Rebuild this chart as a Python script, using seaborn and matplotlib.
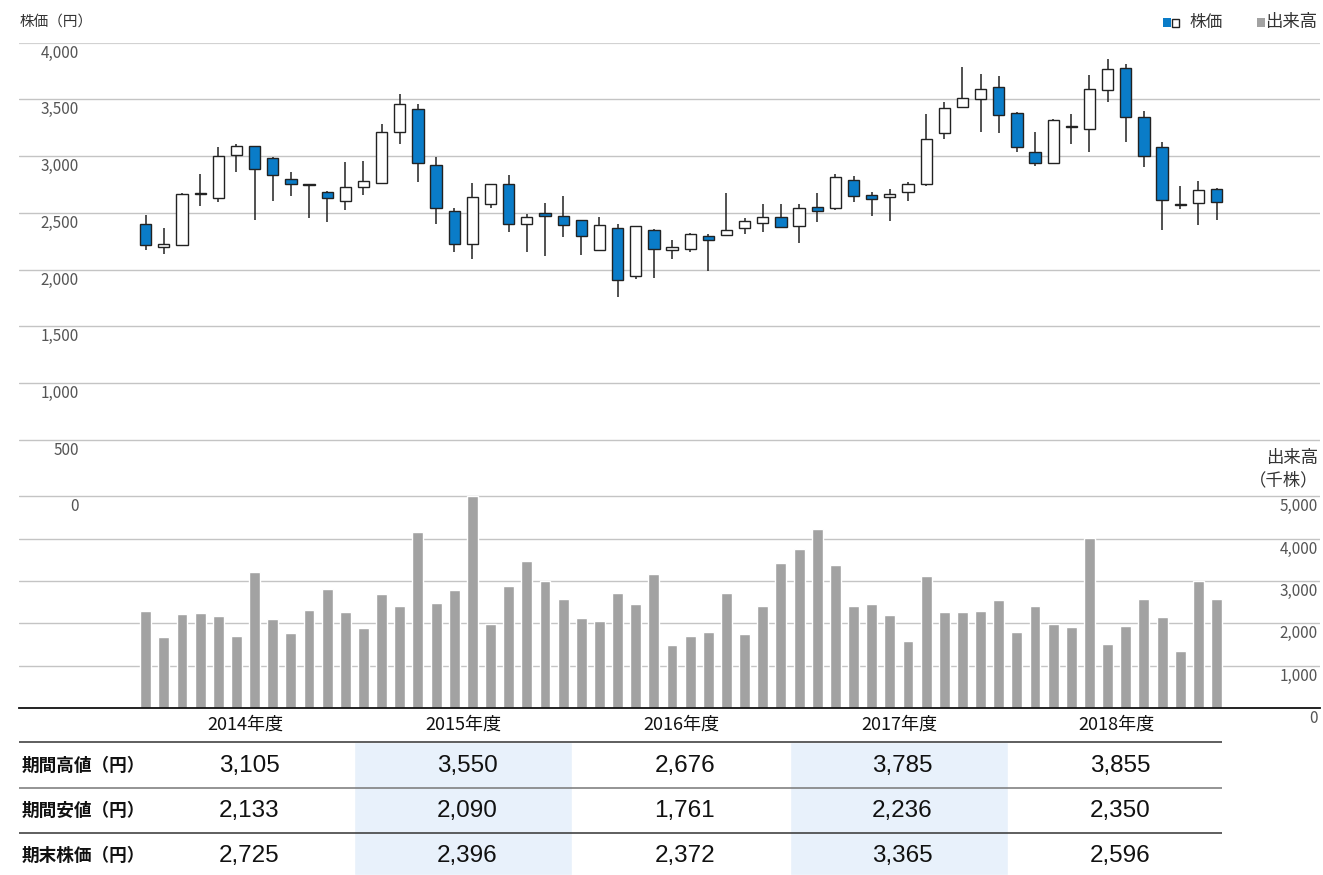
import matplotlib
matplotlib.use("Agg")
import matplotlib.pyplot as plt
import matplotlib.transforms as mtransforms
from matplotlib.patches import Rectangle
import numpy as np
import seaborn as sns

# monthly candles, FY2014 (Apr 2014) .. FY2018 (Mar 2019)
opens = [2401, 2196, 2219, 2662, 2627, 3009, 3088, 2982, 2800, 2752, 2686, 2604,
         2727, 2765, 3214, 3414, 2924, 2516, 2225, 2574, 2756, 2401, 2498, 2472,
         2433, 2175, 2369, 1943, 2351, 2172, 2184, 2292, 2301, 2363, 2413, 2460,
         2383, 2551, 2539, 2792, 2656, 2639, 2680, 2753, 3200, 3437, 3501, 3608,
         3379, 3035, 2941, 3258, 3235, 3580, 3774, 3344, 3079, 2572, 2583, 2709]
closes = [2216, 2228, 2668, 2672, 3000, 3088, 2888, 2830, 2753, 2745, 2627, 2725,
          2780, 3214, 3458, 2938, 2542, 2225, 2639, 2753, 2401, 2463, 2469, 2396,
          2292, 2392, 1904, 2380, 2181, 2198, 2316, 2263, 2345, 2427, 2463, 2372,
          2545, 2516, 2815, 2645, 2624, 2662, 2753, 3150, 3426, 3510, 3589, 3365,
          3076, 2938, 3317, 3264, 3590, 3765, 3341, 2997, 2610, 2576, 2700, 2596]
highs = [2480, 2366, 2677, 2844, 3082, 3105, 3090, 2991, 2862, 2755, 2690, 2950,
         2959, 3285, 3550, 3458, 2991, 2539, 2765, 2755, 2836, 2489, 2589, 2648,
         2436, 2463, 2401, 2383, 2357, 2263, 2319, 2313, 2676, 2454, 2580, 2580,
         2577, 2677, 2844, 2827, 2683, 2709, 2768, 3373, 3479, 3785, 3724, 3704,
         3385, 3214, 3329, 3370, 3713, 3855, 3810, 3399, 3123, 2739, 2783, 2718]
lows = [2169, 2133, 2215, 2557, 2598, 2856, 2433, 2601, 2645, 2451, 2416, 2527,
        2654, 2765, 3103, 2768, 2398, 2151, 2090, 2539, 2328, 2151, 2116, 2284,
        2125, 2172, 1761, 1917, 1925, 2090, 2154, 1984, 2298, 2310, 2331, 2363,
        2236, 2419, 2521, 2595, 2469, 2425, 2601, 2733, 3147, 3428, 3214, 3208,
        3032, 2909, 2930, 3103, 3032, 3473, 3121, 2900, 2350, 2533, 2395, 2434]
volumes = [2291, 1677, 2220, 2244, 2173, 1701, 3213, 2102, 1772, 2315, 2811, 2268,
           1890, 2693, 2409, 4157, 2480, 2787, 5000, 1992, 2882, 3472, 2992, 2575,
           2126, 2055, 2717, 2457, 3165, 1488, 1701, 1795, 2717, 1748, 2409, 3425,
           3756, 4228, 3378, 2409, 2457, 2197, 1583, 3118, 2268, 2268, 2291, 2551,
           1795, 2409, 1992, 1913, 4016, 1512, 1937, 2575, 2150, 1346, 2992, 2575]

years = ["2014年度", "2015年度", "2016年度", "2017年度", "2018年度"]
row_labels = ["期間高値（円）", "期間安値（円）", "期末株価（円）"]
period_high = [3105, 3550, 2676, 3785, 3855]
period_low = [2133, 2090, 1761, 2236, 2350]
period_end = [2725, 2396, 2372, 3365, 2596]

price_ticks = [0, 500, 1000, 1500, 2000, 2500, 3000, 3500, 4000]
volume_ticks = [0, 1000, 2000, 3000, 4000, 5000]

BLUE = "#0A7CC8"
GRAY = "#A2A2A2"
GRID = "#C4C4C4"
SHADE = "#E8F1FB"
EDGE = "#222222"

sns.set_theme(style="white")
plt.rcParams["font.family"] = ["Noto Sans CJK JP", "DejaVu Sans"]

W, H = 1323, 875
fig = plt.figure(figsize=(W / 100, H / 100), dpi=100)


def rect(top, bottom, left=19, right=1320):
    return [left / W, 1 - bottom / H, (right - left) / W, (bottom - top) / H]


ax_p = fig.add_axes(rect(42.7, 496.3))
ax_v = fig.add_axes(rect(496.3, 708))
ax_t = fig.add_axes(rect(708, 875))

XLIM = (-6.98, 64.70)
x = np.arange(len(opens))
for ax in (ax_p, ax_v, ax_t):
    ax.set_xlim(*XLIM)
    ax.set_facecolor("none")

# price panel
ax_p.set_ylim(0, 4000)
for v in price_ticks:
    ax_p.axhline(v, color="#D2D2D2" if v == 4000 else GRID,
                 lw=1.6 if v == 4000 else 1.0, zorder=0)
below = mtransforms.ScaledTranslation(0, -10.5 / 100, fig.dpi_scale_trans)
lab_tr = ax_p.get_yaxis_transform() + below
xl = (79 - 19) / (1320 - 19)
for v in price_ticks:
    ax_p.text(xl, v, f"{v:,}", transform=lab_tr, ha="right", va="center",
              fontsize=11, color="#555555", clip_on=False)

o = np.array(opens)
c = np.array(closes)
up = c >= o
bottoms = np.minimum(o, c)
heights = np.maximum(np.abs(c - o), 8)
ax_p.vlines(x, lows, highs, color=EDGE, lw=1.1, zorder=2)
ax_p.bar(x, heights, bottom=bottoms, width=0.62,
         color=np.where(up, "white", BLUE), edgecolor=EDGE, linewidth=1.0, zorder=3)

# volume panel
sns.barplot(x=x, y=volumes, native_scale=True, color=GRAY, saturation=1,
            width=0.6, errorbar=None, ax=ax_v, zorder=2)
ax_v.set_xlim(*XLIM)
ax_v.set_ylim(0, 5000)
for v in volume_ticks[1:]:
    ax_v.axhline(v, color=GRID, lw=1.0, zorder=0)
vlab_tr = ax_v.get_yaxis_transform() + below
for v in volume_ticks:
    ax_v.text(0.9985, v, f"{v:,}", transform=vlab_tr, ha="right", va="center",
              fontsize=11, color="#555555", clip_on=False)

for ax in (ax_p, ax_v, ax_t):
    ax.set_xticks([])
    ax.set_yticks([])
    ax.set_xlabel("")
    ax.set_ylabel("")
    for s in ax.spines.values():
        s.set_visible(False)
ax_v.spines["bottom"].set_visible(True)
ax_v.spines["bottom"].set_color("#111111")
ax_v.spines["bottom"].set_linewidth(1.3)

# table
ax_t.set_ylim(875, 708)
centers = np.arange(len(years)) * 12 + 5.5
ax_t.bar(centers[[1, 3]], 875 - 742, bottom=742, width=12, color=SHADE, zorder=0)
for yy, col in zip([742, 788, 833], ["#333333", "#777777", "#333333"]):
    ax_t.hlines(yy, XLIM[0], 59.3, color=col, lw=1.1, zorder=1)
for cx, yr in zip(centers, years):
    ax_t.text(cx, 725, yr, ha="center", va="center", fontsize=13, color="#111111")
for yy, lab, vals in zip([766, 811, 856], row_labels,
                         [period_high, period_low, period_end]):
    ax_t.text(-6.82, yy, lab, ha="left", va="center", fontsize=12.7,
              fontweight="bold", color="#111111")
    for cx, v in zip(centers, vals):
        ax_t.text(cx + 0.2, yy, f"{v:,}", ha="center", va="center", fontsize=17.5,
                  family=["Liberation Sans"], color="#111111")

# titles and legend
fig.text(20 / W, 1 - 22 / H, "株価（円）", ha="left", va="center", fontsize=10.5,
         color="#333333")
fig.text(1318 / W, 1 - 458 / H, "出来高", ha="right", va="center", fontsize=12.5,
         color="#333333")
fig.text(1318 / W, 1 - 480 / H, "（千株）", ha="right", va="center", fontsize=12.5,
         color="#333333")

def fig_box(x0, y0, w, h, fc, ec="none"):
    fig.add_artist(Rectangle((x0 / W, 1 - (y0 + h) / H), w / W, h / H,
                             transform=fig.transFigure, facecolor=fc,
                             edgecolor=ec, linewidth=1.0))

fig_box(1163, 18, 8, 9, BLUE)
fig_box(1171.5, 18.5, 7, 8, "white", "#222222")
fig.text(1189 / W, 1 - 22 / H, "株価", ha="left", va="center", fontsize=12,
         color="#333333")
fig_box(1257, 18, 8, 9, GRAY)
fig.text(1265 / W, 1 - 22 / H, "出来高", ha="left", va="center", fontsize=12.5,
         color="#333333")

fig.savefig("out.png", dpi=100)
